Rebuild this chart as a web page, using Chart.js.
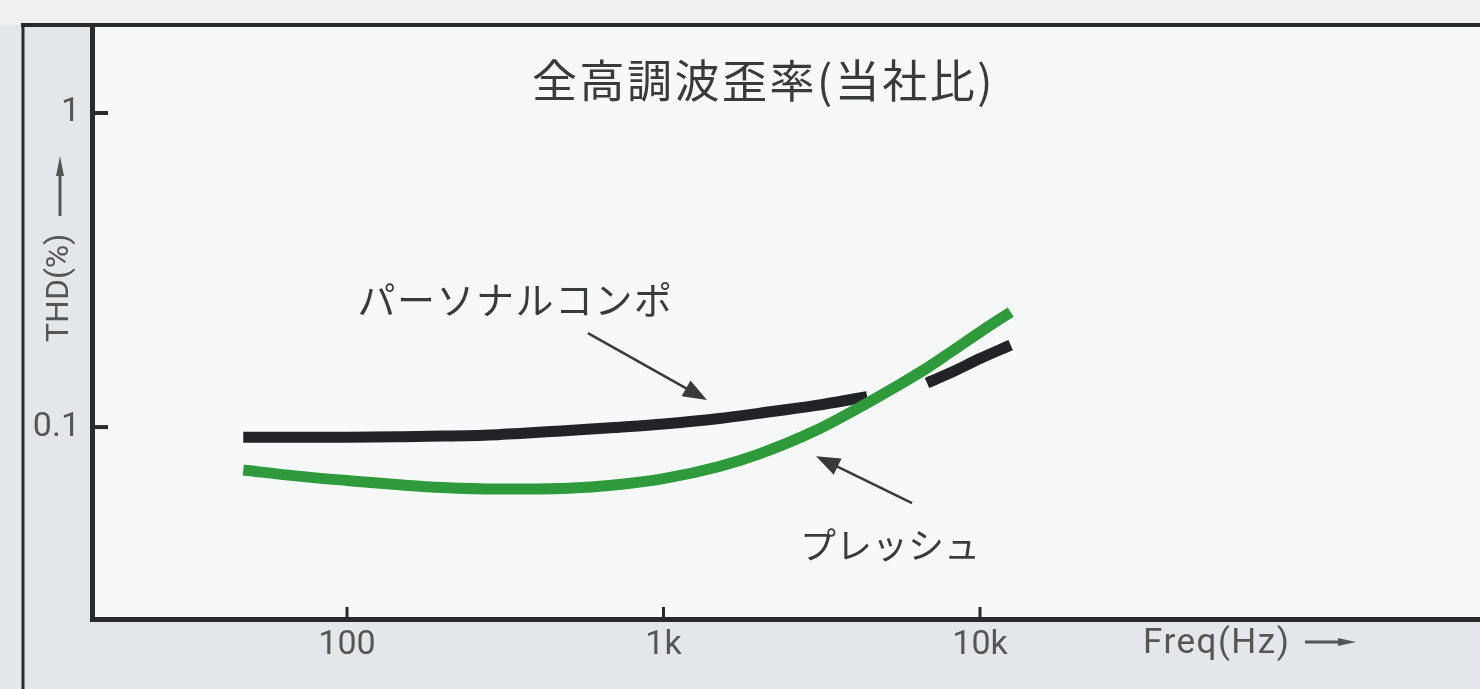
<!DOCTYPE html>
<html>
<head>
<meta charset="utf-8">
<script src="https://cdn.jsdelivr.net/npm/chart.js@4.4.1/dist/chart.umd.min.js"></script>
<style>
    html, body { margin: 0; padding: 0; background: #e4e7e9; }
    canvas { display: block; }
</style>
</head>
<body>
<canvas id="grafThd" width="1480" height="689"></canvas>
<script>
// ===== DATOS =====
const frecuencias = [47, 70, 100, 150, 200, 300, 500, 700, 1000, 1500, 2000, 3000, 4400, 5400, 6800, 8000, 10000, 12500]
// la curva negra se corta donde la cruza la verde
const thdPersonalCompo = [0.0929, 0.0929, 0.0929, 0.0932, 0.0936, 0.0946, 0.0975, 0.0997, 0.1023, 0.1065, 0.1106, 0.1170, 0.1250, null, 0.1381, 0.1483, 0.1652, 0.1824]
const thdPresshu = [0.0730, 0.0698, 0.0676, 0.0654, 0.0642, 0.0635, 0.0639, 0.0654, 0.0685, 0.0749, 0.0820, 0.0971, 0.1192, 0.1341, 0.1542, 0.1721, 0.2007, 0.2324]

const ticksX = [100, 1000, 10000]
const etiquetasX = ["100", "1k", "10k"]
const ticksY = [0.1, 1]
const etiquetasY = ["0.1", "1"]

const titulo = "全高調波歪率(当社比)"
const tituloEjeX = "Freq(Hz)"
const tituloEjeY = "THD(%)"

// limites de los ejes
const rangoX = [15.64, 380000]
const rangoY = [0.02449, 1.906]

// etiquetas con flecha, en coordenadas de datos
const anotaciones = [
    { texto: "パーソナルコンポ", x: 108, y: 0.254, tam: 38, esp: 1.5, desdeX: 577, desdeY: 0.199, haciaX: 1372, haciaY: 0.1219 },
    { texto: "プレッシュ", x: 2700, y: 0.0421, tam: 36, esp: 0, desdeX: 6100, desdeY: 0.0573, haciaX: 3034, haciaY: 0.0808 }
]

function flecha(ctx, x1, y1, x2, y2, largo, ancho) {
    const ang = Math.atan2(y2 - y1, x2 - x1)
    ctx.beginPath()
    ctx.moveTo(x1, y1)
    ctx.lineTo(x2 - Math.cos(ang) * largo * 0.8, y2 - Math.sin(ang) * largo * 0.8)
    ctx.stroke()
    ctx.beginPath()
    ctx.moveTo(x2, y2)
    ctx.lineTo(x2 - Math.cos(ang) * largo + Math.sin(ang) * ancho, y2 - Math.sin(ang) * largo - Math.cos(ang) * ancho)
    ctx.lineTo(x2 - Math.cos(ang) * largo - Math.sin(ang) * ancho, y2 - Math.sin(ang) * largo + Math.cos(ang) * ancho)
    ctx.closePath()
    ctx.fill()
}

const decorado = {
    id: "decorado",
    beforeDraw(chart) {
        const { ctx, chartArea: a, width, height } = chart
        ctx.save()
        ctx.fillStyle = "#e4e7e9"
        ctx.fillRect(0, 0, width, height)
        ctx.fillStyle = "#eef0f1"
        ctx.fillRect(0, 0, width, a.top)
        ctx.fillStyle = "#f7f8f8"
        ctx.fillRect(a.left, a.top, a.right - a.left, a.bottom - a.top)
        ctx.restore()
    },
    afterDraw(chart) {
        const { ctx, chartArea: a, width, height } = chart
        const sx = chart.scales.x
        const sy = chart.scales.y
        ctx.save()

        // marco
        ctx.strokeStyle = "#2a2a2a"
        ctx.lineWidth = 4
        ctx.beginPath()
        ctx.moveTo(21, a.top)
        ctx.lineTo(width, a.top)
        ctx.stroke()
        ctx.lineWidth = 3
        ctx.beginPath()
        ctx.moveTo(23, a.top)
        ctx.lineTo(23, height)
        ctx.stroke()

        // marcas hacia adentro
        ctx.lineWidth = 4
        sy.ticks.forEach(t => {
            const y = sy.getPixelForValue(t.value)
            ctx.beginPath()
            ctx.moveTo(a.left, y)
            ctx.lineTo(a.left + 16, y)
            ctx.stroke()
        })
        ctx.lineWidth = 3
        sx.ticks.forEach(t => {
            const x = sx.getPixelForValue(t.value)
            ctx.beginPath()
            ctx.moveTo(x, a.bottom)
            ctx.lineTo(x, a.bottom - 12)
            ctx.stroke()
        })

        // titulo
        ctx.fillStyle = "#3a3a3a"
        ctx.textBaseline = "middle"
        ctx.textAlign = "left"
        ctx.font = "400 45px 'Noto Sans CJK JP'"
        ctx.letterSpacing = "2.5px"
        ctx.fillText(titulo, a.left + 440, a.top + 56)

        // anotaciones
        ctx.strokeStyle = "#3a3a3a"
        ctx.lineWidth = 2.5
        anotaciones.forEach(an => {
            ctx.font = `400 ${an.tam}px 'Noto Sans CJK JP'`
            ctx.letterSpacing = an.esp + "px"
            ctx.fillText(an.texto, sx.getPixelForValue(an.x), sy.getPixelForValue(an.y))
            flecha(ctx,
                sx.getPixelForValue(an.desdeX), sy.getPixelForValue(an.desdeY),
                sx.getPixelForValue(an.haciaX), sy.getPixelForValue(an.haciaY), 24, 9)
        })

        // titulos de ejes
        ctx.fillStyle = "#555"
        ctx.strokeStyle = "#555"
        ctx.font = "400 35px Roboto"
        ctx.letterSpacing = "1.5px"
        ctx.fillText(tituloEjeX, 1143, a.bottom + 25)
        ctx.lineWidth = 3
        flecha(ctx, 1305, a.bottom + 23, 1356, a.bottom + 23, 18, 4)

        ctx.save()
        ctx.translate(60, 342)
        ctx.rotate(-Math.PI / 2)
        ctx.font = "400 32px Roboto"
        ctx.letterSpacing = "0px"
        ctx.fillText(tituloEjeY, 0, 0)
        ctx.restore()
        flecha(ctx, 60, 216, 60, 156, 20, 4)

        ctx.restore()
    }
}

const serie = vals => frecuencias.map((f, i) => ({ x: f, y: vals[i] }))

new Chart(document.getElementById("grafThd").getContext("2d"), {
    type: "line",
    data: {
        datasets: [{
            label: "プレッシュ",
            data: serie(thdPresshu),
            borderColor: "#2f9a3b",
            borderWidth: 11,
            borderCapStyle: "butt",
            pointRadius: 0,
            cubicInterpolationMode: "monotone",
            order: 1
        }, {
            label: "パーソナルコンポ",
            data: serie(thdPersonalCompo),
            borderColor: "#222326",
            borderWidth: 11,
            borderCapStyle: "butt",
            pointRadius: 0,
            spanGaps: false,
            cubicInterpolationMode: "monotone",
            order: 2
        }]
    },
    options: {
        responsive: false,
        animation: false,
        devicePixelRatio: 1,
        layout: { padding: { top: 25, left: 0, right: 0, bottom: 0 } },
        plugins: {
            legend: { display: false },
            tooltip: { enabled: false }
        },
        scales: {
            x: {
                type: "logarithmic",
                min: rangoX[0],
                max: rangoX[1],
                afterFit: s => { s.height = 70; s.paddingLeft = 0; s.paddingRight = 0 },
                afterBuildTicks: s => { s.ticks = ticksX.map(v => ({ value: v })) },
                grid: { display: false, drawTicks: false },
                border: { display: true, color: "#2a2a2a", width: 5 },
                ticks: {
                    autoSkip: false,
                    maxRotation: 0,
                    padding: 6,
                    color: "#555",
                    font: { family: "Roboto", size: 34 },
                    callback: (v, i) => etiquetasX[i]
                }
            },
            y: {
                type: "logarithmic",
                min: rangoY[0],
                max: rangoY[1],
                afterFit: s => { s.width = 92; s.paddingTop = 0; s.paddingBottom = 0 },
                afterBuildTicks: s => { s.ticks = ticksY.map(v => ({ value: v })) },
                grid: { display: false, drawTicks: false },
                border: { display: true, color: "#2a2a2a", width: 5 },
                ticks: {
                    autoSkip: false,
                    padding: 12,
                    color: "#555",
                    font: { family: "Roboto", size: 34 },
                    callback: (v, i) => etiquetasY[i]
                }
            }
        }
    },
    plugins: [decorado]
})
</script>
</body>
</html>
